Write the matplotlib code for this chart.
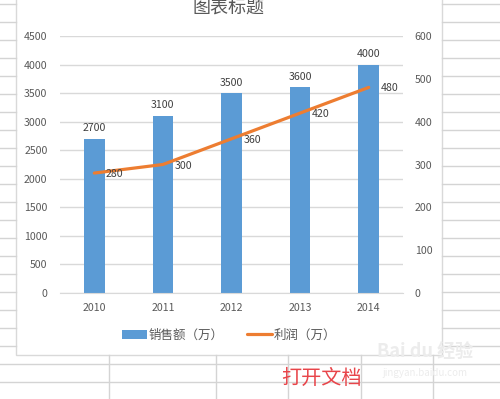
import matplotlib
matplotlib.use('Agg')
import matplotlib.pyplot as plt
import matplotlib.patches as patches

plt.rcParams['font.family'] = ['Noto Sans CJK SC', 'DejaVu Sans']

# chart data
years = ['2010', '2011', '2012', '2013', '2014']
sales = [2700, 3100, 3500, 3600, 4000]
profit = [280, 300, 360, 420, 480]
sales_ticks = [0, 500, 1000, 1500, 2000, 2500, 3000, 3500, 4000, 4500]
profit_ticks = [0, 100, 200, 300, 400, 500, 600]

W, H = 500, 399
fig = plt.figure(figsize=(5, 3.99), dpi=100)

# spreadsheet background, in pixel coords
bg = fig.add_axes([0, 0, 1, 1], zorder=-5)
bg.set_xlim(0, W)
bg.set_ylim(H, 0)
bg.axis('off')
cell = '#d4d4d4'
for y in range(4, 400, 18):
    if y < 355:
        bg.plot([0, 15.5], [y, y], color=cell, lw=1)
        bg.plot([442, W], [y, y], color=cell, lw=1)
    else:
        bg.plot([0, W], [y, y], color=cell, lw=1)
for x in [109, 216, 288, 361, 433]:
    bg.plot([x, x], [355, H], color=cell, lw=1)
bg.add_patch(patches.Rectangle((15.5, -2), 426.5, 357, facecolor='white', edgecolor='#d9d9d9', lw=1))

# watermark + note
bg.text(425, 352, 'Bai du 经验', fontsize=13, color='#ececec', ha='center', va='center', fontweight='bold')
bg.text(425, 373, 'jingyan.baidu.com', fontsize=7, color='#ececec', ha='center', va='center')
bg.text(321, 378, '打开文档', fontsize=14.5, color='#e8454a', ha='center', va='center')

# main plot
ax = fig.add_axes([60 / W, 1 - 293 / H, 343 / W, 257 / H])
ax.set_facecolor('none')
xs = list(range(len(years)))
bars = ax.bar(xs, sales, width=0.3, color='#5b9bd5', label='销售额（万）', zorder=2)
ax.set_xlim(-0.5, len(years) - 0.5)
ax.set_ylim(0, 4500)
ax.set_yticks(sales_ticks)
ax.set_xticks(xs)
ax.set_xticklabels(years)
ax.grid(axis='y', color='#d9d9d9', lw=1, zorder=0)
ax.set_axisbelow(True)
for s in ['top', 'right', 'left']:
    ax.spines[s].set_visible(False)
ax.spines['bottom'].set_color('#d9d9d9')
ax.tick_params(length=0, labelsize=7.6, labelcolor='#595959')
ax.tick_params(axis='y', pad=9)
ax.tick_params(axis='x', pad=7)
for x, v in zip(xs, sales):
    ax.annotate(str(v), (x, v), xytext=(0, 4), textcoords='offset points',
                ha='center', va='bottom', fontsize=7.6, color='#404040')

ax2 = ax.twinx()
ax2.plot(xs, profit, color='#ed7d31', lw=2.3, label='利润（万）', solid_capstyle='round')
ax2.set_ylim(0, 600)
ax2.set_yticks(profit_ticks)
for s in ['top', 'right', 'left', 'bottom']:
    ax2.spines[s].set_visible(False)
ax2.tick_params(length=0, labelsize=7.6, labelcolor='#595959', pad=8.5)
for x, v in zip(xs, profit):
    ax2.annotate(str(v), (x, v), xytext=(8.5, 0), textcoords='offset points',
                 ha='left', va='center_baseline', fontsize=7.6, color='#404040')

fig.text(229 / W, 1 - 8.5 / H, '图表标题', ha='center', va='center', fontsize=13, color='#595959')

h1, l1 = ax.get_legend_handles_labels()
h2, l2 = ax2.get_legend_handles_labels()
fig.legend(h1 + h2, l1 + l2, loc='center', bbox_to_anchor=(229 / W, 1 - 335 / H), ncol=2,
           frameon=False, fontsize=9, handlelength=2.0, handletextpad=0.15, columnspacing=1.8,
           labelcolor='#595959')

fig.savefig('out.png', dpi=100)
